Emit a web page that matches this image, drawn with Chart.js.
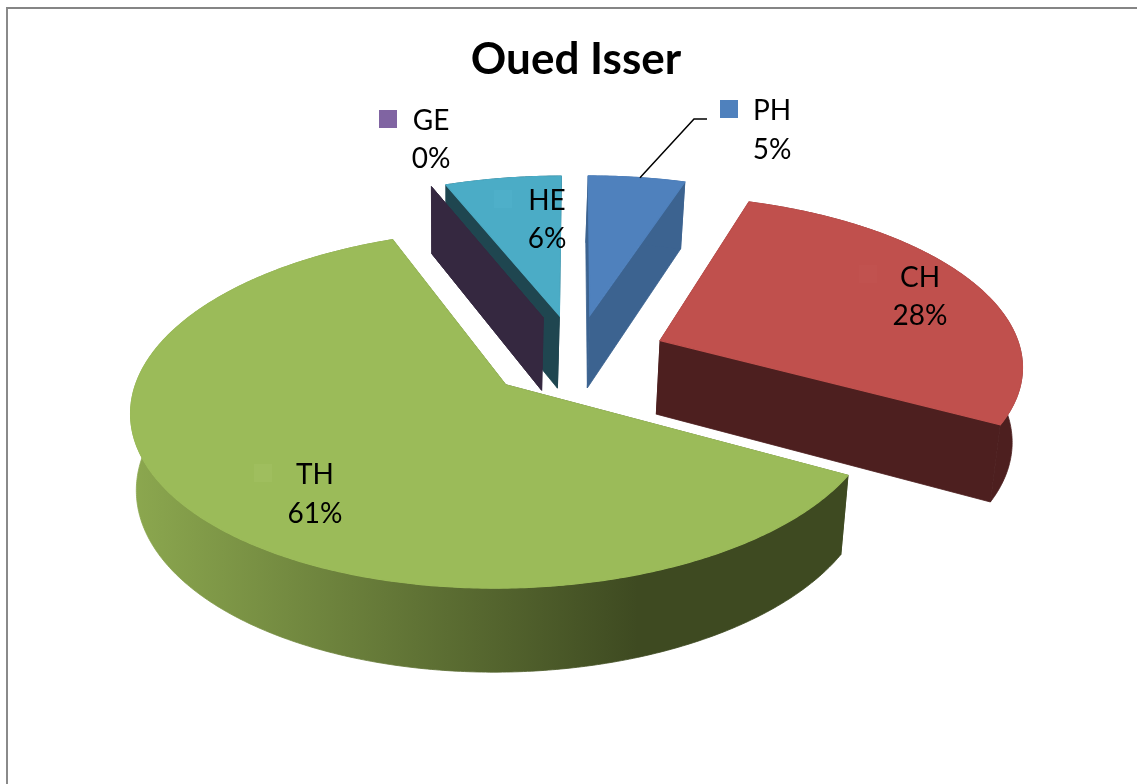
<!DOCTYPE html>
<html>
<head>
<meta charset="utf-8">
<title>Oued Isser</title>
<script src="https://cdn.jsdelivr.net/npm/chart.js@4/dist/chart.umd.min.js"></script>
<style>
  html, body { margin: 0; background: #fff; overflow: hidden; }
  #frame { position: absolute; left: 6px; top: 7px; right: 0; bottom: 0; border-left: 2px solid #8a8a8a; border-top: 2px solid #858585; }
  canvas { position: absolute; left: 0; top: 0; }
</style>
</head>
<body>
<div id="frame"></div>
<canvas id="camembert" width="1137" height="784"></canvas>
<script>
const categories = ["PH", "CH", "TH", "GE", "HE"];
const percents = [5, 28, 61, 0, 6];

const topColors = ["#4f81bd", "#c0504d", "#9bbb59", "#8064a2", "#4bacc6"];
const wallColors = ["#3c6390", "#4d1f1f", "#3e4a21", "#352840", "#1f4650"];
const keyColors = ["#4f81bd", "#c1524f", "#9fbe5e", "#8064a2", "#4eafc9"];

// name centre, first line y, second line y, legend key centre
const labelPlaces = [
  { x: 772, y1: 111, y2: 150, kx: 729, ky: 109 },
  { x: 920, y1: 278, y2: 316, kx: 868, ky: 274 },
  { x: 315, y1: 475, y2: 514, kx: 263, ky: 473 },
  { x: 431, y1: 121, y2: 159, kx: 388, ky: 119 },
  { x: 547, y1: 201, y2: 239, kx: 503, ky: 199 }
];

// perspective of the pie plane: unit circle -> screen
const view = { x0: 576, y0: 356, a: 362, b: 168, p: 0.133 };
const explode = 0.253;

function project(u, v) {
  const w = 1 - view.p * v;
  return { x: view.x0 + view.a * u / w, y: view.y0 + view.b * v / w };
}

// bottom face of the pie, seen further down and slightly narrower
function lower(pt) {
  return { x: 450 + (pt.x - 450) * 0.982, y: pt.y + 59.3 + 0.042 * pt.y };
}

function polygon(ctx, pts, fill, edge) {
  ctx.beginPath();
  pts.forEach((p, i) => i ? ctx.lineTo(p.x, p.y) : ctx.moveTo(p.x, p.y));
  ctx.closePath();
  ctx.fillStyle = fill;
  ctx.strokeStyle = fill;
  ctx.lineWidth = edge;
  ctx.fill();
  ctx.stroke();
}

function sliceGeometry(arc) {
  const { startAngle, endAngle } = arc.getProps(["startAngle", "endAngle"], true);
  const mid = (startAngle + endAngle) / 2;
  const cu = explode * Math.cos(mid);
  const cv = explode * Math.sin(mid);
  const rim = [];
  const steps = Math.max(1, Math.ceil((endAngle - startAngle) / 0.01));
  for (let i = 0; i <= steps; i++) {
    const t = startAngle + (endAngle - startAngle) * i / steps;
    rim.push(project(cu + Math.cos(t), cv + Math.sin(t)));
  }
  return { mid, apex: project(cu, cv), rim, empty: endAngle === startAngle };
}

const pie3d = {
  id: "pie3d",
  beforeDatasetDraw(chart, args) {
    const ctx = chart.ctx;
    const arcs = args.meta.data;
    const geo = arcs.map(sliceGeometry);
    // far slices first so the near ones sit over them
    const order = arcs.map((a, i) => i).sort((i, j) => Math.sin(geo[i].mid) - Math.sin(geo[j].mid));

    ctx.save();
    order.forEach(i => {
      const g = geo[i];
      const first = g.rim[0];
      const last = g.rim[g.rim.length - 1];
      let rimFill = wallColors[i];
      if (categories[i] === "TH") {
        rimFill = ctx.createLinearGradient(130, 0, 845, 0);
        rimFill.addColorStop(0, "#8ca84f");
        rimFill.addColorStop(0.71, "#3e4a21");
        rimFill.addColorStop(1, "#3e4a21");
      }
      polygon(ctx, [g.apex, first, lower(first), lower(g.apex)], wallColors[i], 0.8);
      polygon(ctx, [g.apex, last, lower(last), lower(g.apex)], wallColors[i], 0.8);
      if (g.empty) return;   // a 0% slice only shows its cut face
      polygon(ctx, g.rim.concat(g.rim.map(lower).reverse()), rimFill, 0.8);
      polygon(ctx, [g.apex].concat(g.rim), topColors[i], 1.2);
    });
    ctx.restore();
    return false;
  },
  afterDatasetsDraw(chart) {
    const ctx = chart.ctx;
    const arcs = chart.getDatasetMeta(0).data;

    // leader line of the PH label
    const ph = sliceGeometry(arcs[0]);
    const anchor = ph.rim[Math.round(ph.rim.length / 2)];
    ctx.save();
    ctx.strokeStyle = "#000";
    ctx.lineWidth = 1.5;
    ctx.beginPath();
    ctx.moveTo(anchor.x, anchor.y);
    ctx.lineTo(694, 119);
    ctx.lineTo(707, 119);
    ctx.stroke();

    ctx.font = "28px Lato";
    ctx.textAlign = "center";
    ctx.textBaseline = "middle";
    categories.forEach((name, i) => {
      const place = labelPlaces[i];
      ctx.fillStyle = keyColors[i];
      ctx.fillRect(place.kx - 9, place.ky - 9, 18, 18);
      ctx.fillStyle = "#000";
      ctx.fillText(name, place.x, place.y1);
      ctx.fillText(percents[i] + "%", place.x, place.y2);
    });
    ctx.restore();
  }
};

new Chart(document.getElementById("camembert"), {
  type: "pie",
  data: {
    labels: categories,
    datasets: [{ data: percents, backgroundColor: topColors, borderWidth: 0 }]
  },
  options: {
    responsive: false,
    animation: false,
    rotation: 0,
    layout: { padding: { left: 15 } },
    plugins: {
      legend: { display: false },
      tooltip: { enabled: false },
      title: {
        display: true,
        text: "Oued Isser",
        color: "#000",
        font: { family: "Lato", size: 44, weight: "bold" },
        padding: { top: 33, bottom: 10 }
      }
    }
  },
  plugins: [pie3d]
});
</script>
</body>
</html>
